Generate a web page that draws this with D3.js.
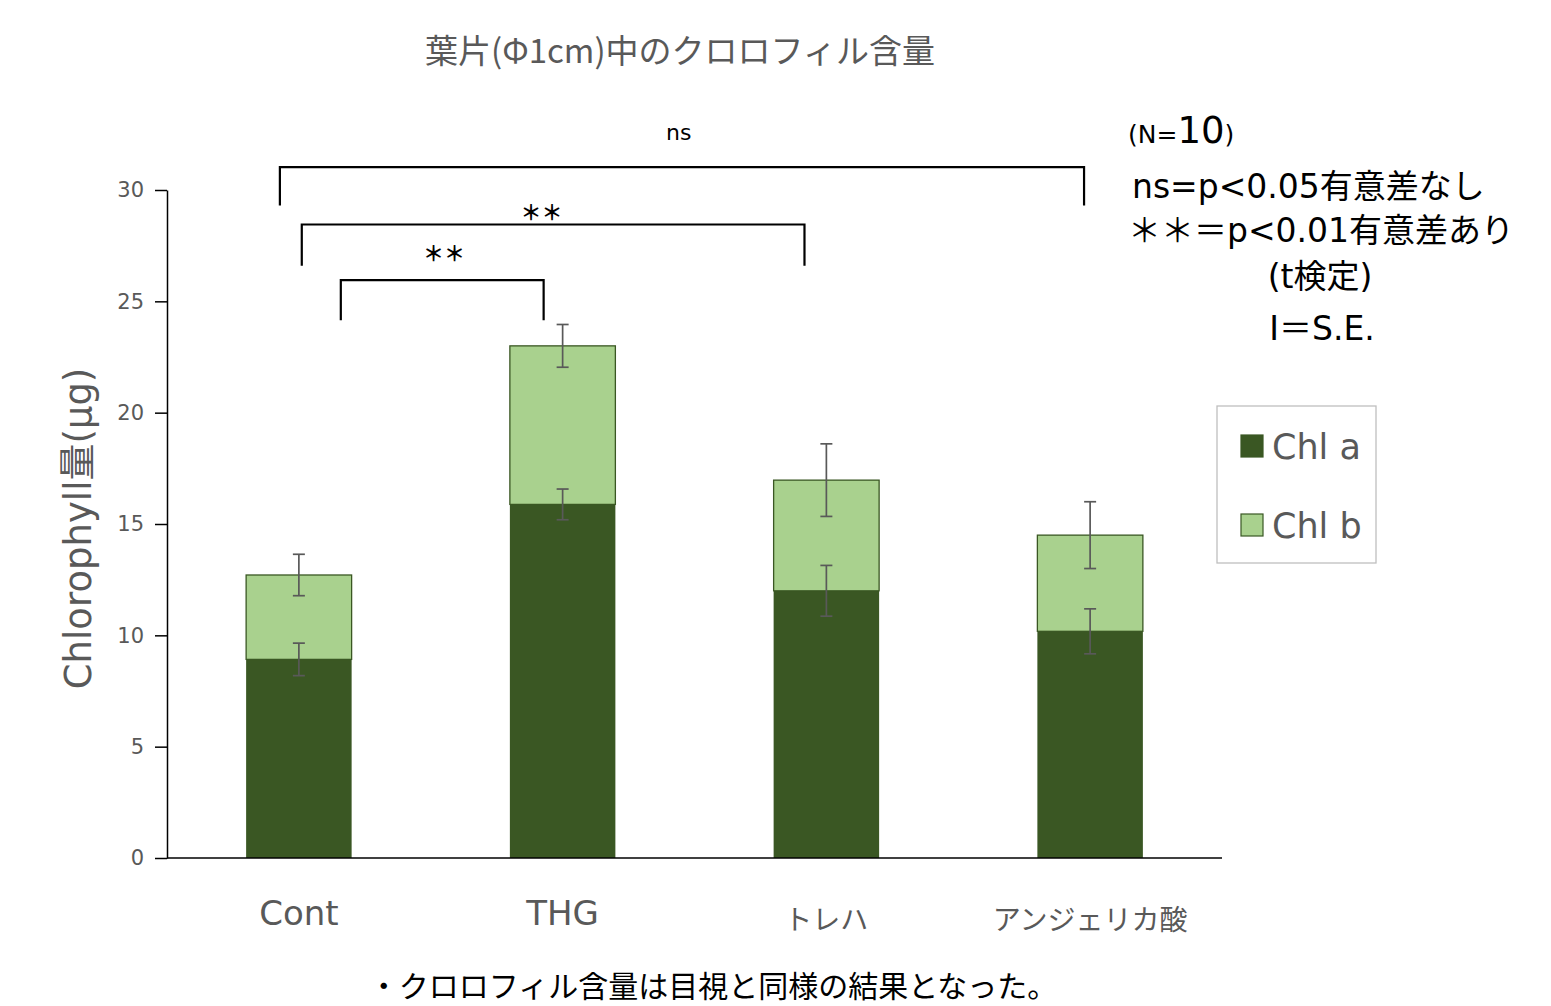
<!DOCTYPE html>
<html>
<head>
<meta charset="utf-8">
<script src="https://d3js.org/d3.v7.min.js"></script>
<style>
  body { margin: 0; background: #fff; }
  svg { display: block; }
  .jp { font-family: "Noto Sans CJK JP", "DejaVu Sans", sans-serif; }
  .lat { font-family: "DejaVu Sans", "Noto Sans CJK JP", sans-serif; }
</style>
</head>
<body>
<script>
// ---------------------------------------------------------------
// data
// ---------------------------------------------------------------
var categories = ["Cont", "THG", "トレハ", "アンジェリカ酸"];
var chlA    = [8.92, 15.88, 12.00, 10.18];
var chlB    = [3.79, 7.12, 4.97, 4.32];
var errA    = [0.73, 0.69, 1.14, 1.01];
var errB    = [0.93, 0.96, 1.63, 1.50];
var yTicks  = [0, 5, 10, 15, 20, 25, 30];
var seriesNames = ["Chl a", "Chl b"];

// significance brackets: from/to category, offset in steps, top/bottom in y units
var brackets = [
  { from: "Cont", to: "アンジェリカ酸", d0: -0.072, d1: -0.023, top: 31.03, bottom: 29.3, label: "ns", lx: "THG", ldx: 0.44, ly: 32.6 },
  { from: "Cont", to: "トレハ",         d0:  0.011, d1: -0.083, top: 28.45, bottom: 26.6, label: "＊＊", lx: "THG", ldx: -0.08, ly: 29.0 },
  { from: "Cont", to: "THG",            d0:  0.159, d1: -0.072, top: 25.95, bottom: 24.15, label: "＊＊", lx: "Cont", ldx: 0.55, ly: 27.15 }
];

var W = 1551, H = 1006;
var margin = { left: 167, right: 329, top: 190, bottom: 148 };
var colA = "#3a5723", colB = "#a9d18e", grey = "#595959";

var svg = d3.select("body").append("svg").attr("width", W).attr("height", H);

var x = d3.scaleBand().domain(categories)
  .range([margin.left, W - margin.right])
  .paddingInner(0.6).paddingOuter(0.3);
var y = d3.scaleLinear().domain([0, 30]).range([H - margin.bottom, margin.top]);

// title
svg.append("text").attr("class", "jp")
  .attr("x", 680).attr("y", 63).attr("text-anchor", "middle")
  .attr("font-size", 33).attr("fill", grey)
  .text("葉片(Φ1cm)中のクロロフィル含量");

// y axis
var yAxis = svg.append("g").attr("transform", "translate(" + margin.left + ",0)")
  .call(d3.axisLeft(y).tickValues(yTicks).tickSize(12).tickSizeOuter(0).tickPadding(11));
yAxis.select(".domain").attr("stroke", "#000").attr("stroke-width", 1.5);
yAxis.selectAll(".tick line").attr("stroke", "#000").attr("stroke-width", 1.5);
yAxis.selectAll(".tick text").attr("class", "lat").attr("font-size", 21).attr("fill", grey);

svg.append("text").attr("class", "lat")
  .attr("transform", "translate(91," + y(14.8) + ") rotate(-90)")
  .attr("text-anchor", "middle").attr("font-size", 37).attr("fill", grey)
  .text("Chlorophyll量(μg)");

// bars
var rows = categories.map(function (c, i) {
  return { cat: c, a: chlA[i], b: chlB[i], ea: errA[i], eb: errB[i] };
});

svg.selectAll("rect.a").data(rows).enter().append("rect")
  .attr("class", "a")
  .attr("x", function (d) { return x(d.cat); })
  .attr("y", function (d) { return y(d.a); })
  .attr("width", x.bandwidth())
  .attr("height", function (d) { return y(0) - y(d.a); })
  .attr("fill", colA);

svg.selectAll("rect.b").data(rows).enter().append("rect")
  .attr("class", "b")
  .attr("x", function (d) { return x(d.cat); })
  .attr("y", function (d) { return y(d.a + d.b); })
  .attr("width", x.bandwidth())
  .attr("height", function (d) { return y(d.a) - y(d.a + d.b); })
  .attr("fill", colB).attr("stroke", colA).attr("stroke-width", 1.3);

// x axis line
svg.append("line")
  .attr("x1", margin.left).attr("x2", W - margin.right)
  .attr("y1", y(0)).attr("y2", y(0))
  .attr("stroke", "#000").attr("stroke-width", 1.5);

// error bars
function errBar(val, err) {
  return function (sel) {
    sel.each(function (d) {
      var g = d3.select(this), cx = x(d.cat) + x.bandwidth() / 2;
      var v = val(d), e = err(d);
      g.append("line").attr("x1", cx).attr("x2", cx).attr("y1", y(v - e)).attr("y2", y(v + e));
      g.append("line").attr("x1", cx - 6).attr("x2", cx + 6).attr("y1", y(v - e)).attr("y2", y(v - e));
      g.append("line").attr("x1", cx - 6).attr("x2", cx + 6).attr("y1", y(v + e)).attr("y2", y(v + e));
    });
  };
}
svg.selectAll("g.ea").data(rows).enter().append("g").attr("class", "ea")
  .attr("stroke", grey).attr("stroke-width", 1.7)
  .call(errBar(function (d) { return d.a; }, function (d) { return d.ea; }));
svg.selectAll("g.eb").data(rows).enter().append("g").attr("class", "eb")
  .attr("stroke", grey).attr("stroke-width", 1.7)
  .call(errBar(function (d) { return d.a + d.b; }, function (d) { return d.eb; }));

// category labels
svg.selectAll("text.cat").data(categories).enter().append("text")
  .attr("class", function (d, i) { return i < 2 ? "cat lat" : "cat jp"; })
  .attr("x", function (d) { return x(d) + x.bandwidth() / 2; })
  .attr("y", function (d, i) { return i < 2 ? 925 : 930; })
  .attr("text-anchor", "middle")
  .attr("font-size", function (d, i) { return i < 2 ? 34 : 28; })
  .attr("fill", grey)
  .text(function (d) { return d; });

// significance brackets
var step = x.step();
brackets.forEach(function (b) {
  var x0 = x(b.from) + x.bandwidth() / 2 + b.d0 * step;
  var x1 = x(b.to) + x.bandwidth() / 2 + b.d1 * step;
  svg.append("path")
    .attr("d", "M" + x0 + "," + y(b.bottom) + "V" + y(b.top) + "H" + x1 + "V" + y(b.bottom))
    .attr("fill", "none").attr("stroke", "#000").attr("stroke-width", 2.2);
  svg.append("text").attr("class", b.label === "ns" ? "lat" : "jp")
    .attr("x", x(b.lx) + x.bandwidth() / 2 + b.ldx * step)
    .attr("y", y(b.ly)).attr("dy", "0.35em")
    .attr("text-anchor", "middle")
    .attr("font-size", b.label === "ns" ? 22 : 21)
    .attr("font-weight", b.label === "ns" ? null : "bold")
    .attr("fill", "#000")
    .text(b.label);
});

// legend
var lg = svg.append("g").attr("transform", "translate(1217,406)");
lg.append("rect").attr("width", 159).attr("height", 157)
  .attr("fill", "#fff").attr("stroke", "#bfbfbf").attr("stroke-width", 1.3);
seriesNames.forEach(function (s, i) {
  var row = lg.append("g").attr("transform", "translate(24," + (29 + i * 79) + ")");
  row.append("rect").attr("width", 22).attr("height", 22)
    .attr("fill", i === 0 ? colA : colB).attr("stroke", colA).attr("stroke-width", 1.2);
  row.append("text").attr("class", "lat")
    .attr("x", 31).attr("y", 11).attr("dy", "0.36em")
    .attr("font-size", 35).attr("fill", grey).text(s);
});

// notes on the right
var n = svg.append("text").attr("class", "lat").attr("x", 1128).attr("y", 143).attr("fill", "#000");
n.append("tspan").attr("font-size", 25).text("(N=");
n.append("tspan").attr("font-size", 37).text("10");
n.append("tspan").attr("font-size", 25).text(")");

var notes = [
  { t: "ns=p<0.05有意差なし", x: 1132, y: 198, a: "start" },
  { t: "＊＊＝p<0.01有意差あり", x: 1128, y: 242, a: "start" },
  { t: "(t検定)", x: 1320, y: 288, a: "middle" },
  { t: "I＝S.E.", x: 1322, y: 340, a: "middle" }
];
svg.selectAll("text.note").data(notes).enter().append("text")
  .attr("class", "note lat")
  .attr("x", function (d) { return d.x; }).attr("y", function (d) { return d.y; })
  .attr("text-anchor", function (d) { return d.a; })
  .attr("font-size", 33).attr("fill", "#000")
  .text(function (d) { return d.t; });

// footnote
svg.append("text").attr("class", "jp")
  .attr("x", 713).attr("y", 997).attr("text-anchor", "middle")
  .attr("font-size", 30).attr("fill", "#000")
  .text("・クロロフィル含量は目視と同様の結果となった。");
</script>
</body>
</html>
